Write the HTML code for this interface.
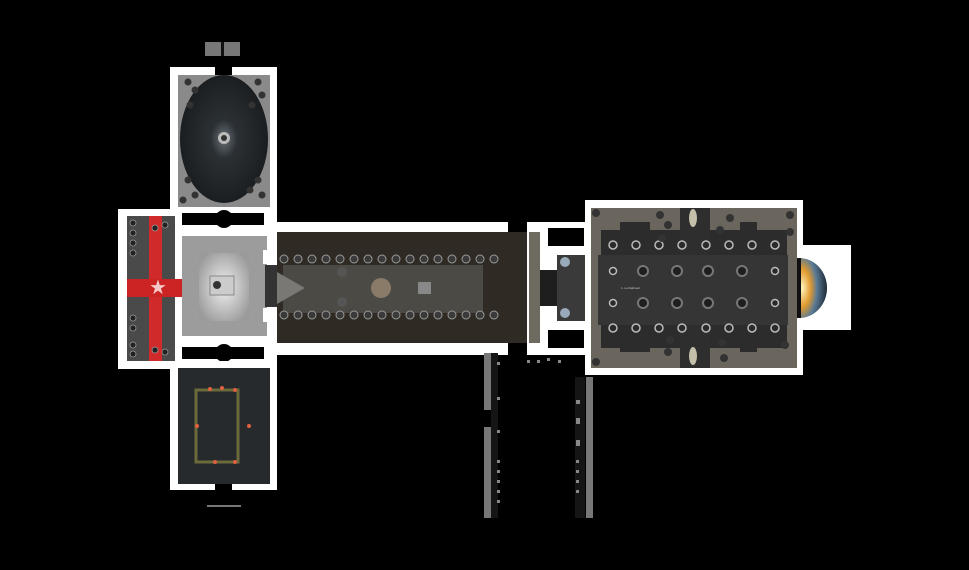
<!DOCTYPE html>
<html><head><style>html,body{margin:0;padding:0;background:#000;width:969px;height:570px;overflow:hidden}</style></head>
<body>
<svg width="969" height="570" viewBox="0 0 969 570" xmlns="http://www.w3.org/2000/svg">
<defs>
<radialGradient id="rg1" cx="0.5" cy="0.5" r="0.5"><stop offset="0" stop-color="#6a7278"/><stop offset="0.3" stop-color="#2b3034"/><stop offset="1" stop-color="#1b1e20"/></radialGradient>
<radialGradient id="sq" cx="0.5" cy="0.5" r="0.6"><stop offset="0" stop-color="#f0f0f0"/><stop offset="1" stop-color="#9a9a9a"/></radialGradient>
<radialGradient id="apse" cx="0.1" cy="0.5" r="0.9"><stop offset="0" stop-color="#fff6c0"/><stop offset="0.35" stop-color="#e09a30"/><stop offset="0.6" stop-color="#5a7a95"/><stop offset="1" stop-color="#1e2a35"/></radialGradient>
</defs>
<!-- top small gray -->
<rect x="205" y="42" width="35" height="14" fill="#777"/><rect x="221" y="42" width="3" height="14" fill="#111"/>
<rect x="207" y="505" width="34" height="2" fill="#777"/>
<!-- top room -->
<rect x="170" y="67" width="107" height="144" fill="#fff"/>
<rect x="215" y="67" width="17" height="8" fill="#000"/>
<rect x="178" y="75" width="92" height="132" fill="#8a8a8a"/>
<ellipse cx="224" cy="139" rx="44" ry="64" fill="url(#rg1)"/>
<circle cx="224" cy="138" r="6" fill="#bbb"/><circle cx="224" cy="138" r="3" fill="#333"/>
<g fill="#333"><circle cx="188" cy="82" r="3.5"/><circle cx="195" cy="90" r="3.5"/><circle cx="190" cy="105" r="3.5"/><circle cx="258" cy="82" r="3.5"/><circle cx="262" cy="95" r="3.5"/><circle cx="252" cy="105" r="3.5"/><circle cx="188" cy="180" r="3.5"/><circle cx="195" cy="195" r="3.5"/><circle cx="183" cy="200" r="3.5"/><circle cx="258" cy="180" r="3.5"/><circle cx="262" cy="195" r="3.5"/><circle cx="250" cy="190" r="3.5"/></g>
<!-- left red cross room -->
<rect x="118" y="209" width="64" height="160" fill="#fff"/>
<rect x="127" y="216" width="48" height="145" fill="#4a4a4a"/>
<rect x="149" y="216" width="13" height="145" fill="#d02a2a"/>
<rect x="127" y="279" width="55" height="18" fill="#cc2424"/>
<text x="158" y="294" font-size="20" fill="#f4c8c8" text-anchor="middle" font-family="DejaVu Sans">★</text>
<g fill="#222" stroke="#999" stroke-width="0.8"><circle cx="133" cy="223" r="3"/><circle cx="133" cy="233" r="3"/><circle cx="133" cy="243" r="3"/><circle cx="133" cy="253" r="3"/><circle cx="133" cy="318" r="3"/><circle cx="133" cy="328" r="3"/><circle cx="133" cy="345" r="3"/><circle cx="133" cy="354" r="3"/><circle cx="155" cy="228" r="3"/><circle cx="165" cy="225" r="3"/><circle cx="155" cy="350" r="3"/><circle cx="165" cy="352" r="3"/></g>
<!-- cross connector blacks -->
<rect x="182" y="211" width="95" height="25" fill="#fff"/>
<rect x="182" y="336" width="95" height="25" fill="#fff"/>
<rect x="182" y="213" width="82" height="12" fill="#000"/><circle cx="224" cy="219" r="9" fill="#000"/>
<rect x="182" y="347" width="82" height="12" fill="#000"/><circle cx="224" cy="353" r="9" fill="#000"/>
<!-- bottom room -->
<rect x="170" y="361" width="107" height="129" fill="#fff"/>
<rect x="215" y="482" width="17" height="8" fill="#000"/>
<rect x="178" y="368" width="92" height="116" fill="#262a2c"/>
<rect x="196" y="390" width="42" height="72" fill="none" stroke="#6a6a3a" stroke-width="3"/>
<g fill="#e06040"><circle cx="210" cy="389" r="2"/><circle cx="222" cy="388" r="2"/><circle cx="235" cy="390" r="2"/><circle cx="197" cy="426" r="2"/><circle cx="249" cy="426" r="2"/><circle cx="215" cy="462" r="2"/><circle cx="235" cy="462" r="2"/></g>
<!-- central square -->
<rect x="182" y="236" width="95" height="100" fill="#9c9c9c"/>
<rect x="199" y="253" width="50" height="68" fill="url(#sq)"/>
<rect x="210" y="276" width="24" height="19" fill="#ccc" stroke="#888"/><circle cx="217" cy="285" r="4" fill="#333"/>
<!-- nave -->
<rect x="267" y="222" width="243" height="133" fill="#fff"/>
<rect x="277" y="232" width="250" height="111" fill="#2f2b24"/>
<rect x="263" y="250" width="14" height="14" fill="#fff"/><rect x="263" y="308" width="14" height="14" fill="#fff"/>
<rect x="265" y="265" width="12" height="42" fill="#333"/>
<rect x="283" y="265" width="200" height="48" fill="#4c4a44"/>
<polygon points="277,272 305,288 277,304" fill="#7a7874"/>
<circle cx="381" cy="288" r="10" fill="#8a7a68"/><rect x="418" y="282" width="13" height="12" fill="#888"/>
<g fill="#3a3a3a" stroke="#9a9a9a" stroke-width="1">
<circle cx="284" cy="259" r="4"/><circle cx="298" cy="259" r="4"/><circle cx="312" cy="259" r="4"/><circle cx="326" cy="259" r="4"/><circle cx="340" cy="259" r="4"/><circle cx="354" cy="259" r="4"/><circle cx="368" cy="259" r="4"/><circle cx="382" cy="259" r="4"/><circle cx="396" cy="259" r="4"/><circle cx="410" cy="259" r="4"/><circle cx="424" cy="259" r="4"/><circle cx="438" cy="259" r="4"/><circle cx="452" cy="259" r="4"/><circle cx="466" cy="259" r="4"/><circle cx="480" cy="259" r="4"/><circle cx="494" cy="259" r="4"/>
<circle cx="284" cy="315" r="4"/><circle cx="298" cy="315" r="4"/><circle cx="312" cy="315" r="4"/><circle cx="326" cy="315" r="4"/><circle cx="340" cy="315" r="4"/><circle cx="354" cy="315" r="4"/><circle cx="368" cy="315" r="4"/><circle cx="382" cy="315" r="4"/><circle cx="396" cy="315" r="4"/><circle cx="410" cy="315" r="4"/><circle cx="424" cy="315" r="4"/><circle cx="438" cy="315" r="4"/><circle cx="452" cy="315" r="4"/><circle cx="466" cy="315" r="4"/><circle cx="480" cy="315" r="4"/><circle cx="494" cy="315" r="4"/>
</g>
<circle cx="342" cy="272" r="5" fill="#555"/><circle cx="342" cy="302" r="5" fill="#555"/>
<!-- gap black and narthex -->
<rect x="508" y="222" width="19" height="133" fill="#000"/>
<rect x="508" y="232" width="19" height="111" fill="#2f2b24"/>
<rect x="527" y="222" width="14" height="133" fill="#fff"/>
<rect x="529" y="232" width="11" height="111" fill="#6e6a60"/>
<!-- connector -->
<rect x="540" y="222" width="52" height="133" fill="#fff"/>
<rect x="548" y="228" width="36" height="18" fill="#000"/>
<rect x="548" y="330" width="36" height="18" fill="#000"/>
<rect x="540" y="270" width="20" height="36" fill="#1e1e1e"/>
<rect x="557" y="255" width="35" height="66" fill="#3a3a3a"/>
<circle cx="565" cy="262" r="5" fill="#9ab"/><circle cx="565" cy="313" r="5" fill="#9ab"/>
<!-- right room -->
<rect x="585" y="200" width="218" height="175" fill="#fff"/>
<rect x="591" y="208" width="206" height="160" fill="#6a665e"/>
<rect x="601" y="230" width="186" height="118" fill="#2c2c2c"/>
<rect x="620" y="222" width="30" height="130" fill="#2c2c2c"/>
<rect x="680" y="208" width="30" height="160" fill="#2e2e2e"/>
<rect x="740" y="222" width="17" height="130" fill="#2c2c2c"/>
<rect x="598" y="255" width="190" height="70" fill="#353535"/>
<g fill="#2a2a2a" stroke="#bbb" stroke-width="1.5">
<circle cx="613" cy="245" r="4"/><circle cx="636" cy="245" r="4"/><circle cx="659" cy="245" r="4"/><circle cx="682" cy="245" r="4"/><circle cx="706" cy="245" r="4"/><circle cx="729" cy="245" r="4"/><circle cx="752" cy="245" r="4"/><circle cx="775" cy="245" r="4"/>
<circle cx="613" cy="328" r="4"/><circle cx="636" cy="328" r="4"/><circle cx="659" cy="328" r="4"/><circle cx="682" cy="328" r="4"/><circle cx="706" cy="328" r="4"/><circle cx="729" cy="328" r="4"/><circle cx="752" cy="328" r="4"/><circle cx="775" cy="328" r="4"/>
<circle cx="613" cy="271" r="3.5"/><circle cx="775" cy="271" r="3.5"/><circle cx="613" cy="303" r="3.5"/><circle cx="775" cy="303" r="3.5"/>
</g>
<g fill="#1e1e1e" stroke="#777" stroke-width="2">
<circle cx="643" cy="271" r="5"/><circle cx="677" cy="271" r="5"/><circle cx="708" cy="271" r="5"/><circle cx="742" cy="271" r="5"/>
<circle cx="643" cy="303" r="5"/><circle cx="677" cy="303" r="5"/><circle cx="708" cy="303" r="5"/><circle cx="742" cy="303" r="5"/>
</g>
<g fill="#333"><circle cx="596" cy="213" r="4"/><circle cx="660" cy="215" r="4"/><circle cx="668" cy="225" r="4"/><circle cx="662" cy="238" r="4"/><circle cx="720" cy="230" r="4"/><circle cx="730" cy="218" r="4"/><circle cx="790" cy="215" r="4"/><circle cx="790" cy="232" r="4"/><circle cx="596" cy="362" r="4"/><circle cx="670" cy="340" r="4"/><circle cx="668" cy="352" r="4"/><circle cx="722" cy="343" r="4"/><circle cx="724" cy="358" r="4"/><circle cx="785" cy="345" r="4"/></g>
<ellipse cx="693" cy="218" rx="4" ry="9" fill="#e8e4c8" opacity="0.8"/>
<ellipse cx="693" cy="356" rx="4" ry="9" fill="#e8e4c8" opacity="0.8"/>
<text x="621" y="289" font-size="3" fill="#ccc" font-family="Liberation Sans">1. Le bâtiment</text>
<!-- apse -->
<rect x="797" y="245" width="54" height="85" fill="#fff"/>
<path d="M799,258 A28,30 0 0 1 799,318 Z" fill="url(#apse)"/>
<rect x="797" y="258" width="4" height="60" fill="#111"/>
<!-- lower columns -->
<rect x="484" y="353" width="7" height="57" fill="#777"/>
<rect x="484" y="427" width="7" height="91" fill="#777"/>
<rect x="491" y="353" width="7" height="165" fill="#151515"/>
<rect x="586" y="377" width="7" height="141" fill="#777"/>
<rect x="575" y="377" width="10" height="141" fill="#151515"/>
<g fill="#888"><rect x="497" y="362" width="3" height="3"/><rect x="497" y="397" width="3" height="3"/><rect x="497" y="430" width="3" height="3"/><rect x="497" y="460" width="3" height="3"/><rect x="497" y="470" width="3" height="3"/><rect x="497" y="480" width="3" height="3"/><rect x="497" y="490" width="3" height="3"/><rect x="497" y="500" width="3" height="3"/><rect x="527" y="360" width="3" height="3"/><rect x="537" y="360" width="3" height="3"/><rect x="547" y="358" width="3" height="3"/><rect x="558" y="360" width="3" height="3"/><rect x="576" y="400" width="4" height="4"/><rect x="576" y="418" width="4" height="6"/><rect x="576" y="440" width="4" height="6"/><rect x="576" y="460" width="3" height="3"/><rect x="576" y="470" width="3" height="3"/><rect x="576" y="480" width="3" height="3"/><rect x="576" y="490" width="3" height="3"/></g>
</svg>
</body></html>
